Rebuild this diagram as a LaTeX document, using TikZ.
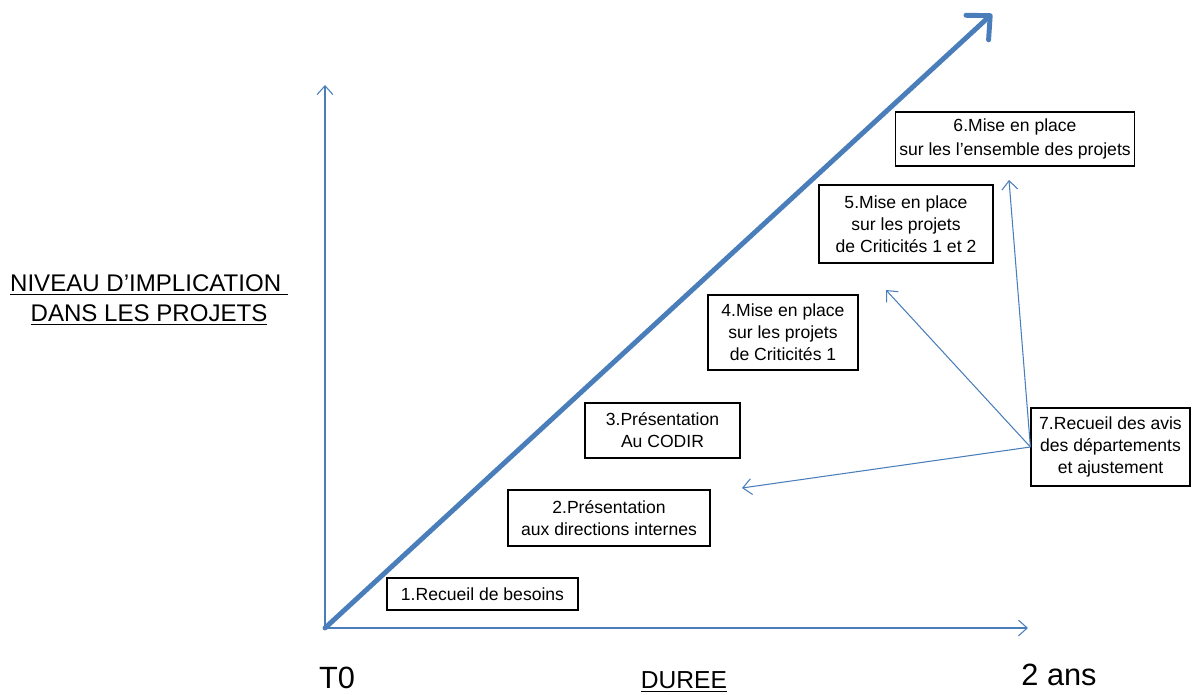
\documentclass[tikz,border=0pt]{standalone}
\usepackage{fontspec}
\setmainfont{Liberation Sans}
\usetikzlibrary{arrows.meta}
\usetikzlibrary{positioning}

\definecolor{axisblue}{HTML}{4A7EBB}

\tikzset{
    etape/.style={draw=black, line width=0.7pt, align=center, inner sep=2pt,
        font=\fontsize{10}{12.5}\selectfont},
    axe/.style={axisblue, line width=0.6pt, -{Straight Barb[length=5pt, width=9pt]}},
    avis/.style={axisblue, line width=0.6pt, -{Straight Barb[length=5pt, width=9pt]}},
    grand/.style={font=\fontsize{17.5}{20}\selectfont, inner sep=1pt},
    titre/.style={font=\fontsize{13.7}{17}\selectfont, align=center}
}

\begin{document}
\begin{tikzpicture}[x=0.02cm, y=-0.02cm]
            \useasboundingbox (0,0) rectangle (1200,695);

            \coordinate (O) at (325,628);
            \coordinate (Ytop) at (325,85);
            \coordinate (Xend) at (1028,628);
            \coordinate (Diag) at (992,14);

            % axes
            \draw[axe] (O) -- (Ytop);
            \draw[axe] (O) -- (Xend);
            \draw[axisblue, line width=2.8pt, line cap=round,
                -{Straight Barb[length=10pt, width=19pt, line cap=round, round]}] (O) -- (Diag);

            % etapes
            \node[etape, minimum width=3.82cm, minimum height=0.64cm] (e1) at (482.5,594) {1.Recueil de besoins};
            \node[etape, minimum width=4.04cm, minimum height=1.12cm] (e2) at (609,518) {2.Présentation\\aux directions internes};
            \node[etape, minimum width=3.1cm, minimum height=1.1cm] (e3) at (662.5,430.5) {3.Présentation\\Au CODIR};
            \node[etape, minimum width=3.0cm, minimum height=1.5cm] (e4) at (783,332.5) {4.Mise en place\\sur les projets\\de Criticités 1};
            \node[etape, minimum width=3.48cm, minimum height=1.56cm] (e5) at (906,224) {5.Mise en place\\sur les projets\\de Criticités 1 et 2};
            \node[etape, minimum width=4.72cm, minimum height=1.08cm] (e6) at (1015,139) {6.Mise en place\\[1pt]sur les l’ensemble des projets};
            \node[etape, minimum width=3.18cm, minimum height=1.56cm] (e7) at (1110.5,447) {7.Recueil des avis\\des départements\\et ajustement};

            % retours
            \coordinate (R1) at (742,488);
            \coordinate (R2) at (886,290);
            \coordinate (R3) at (1009,180);
            \foreach \r in {R1,R2,R3}{
                \draw[avis] (e7.west) -- (\r);
            }

            % libelles
            \node[titre] (niveau) at (149,300) {\underline{NIVEAU D’IMPLICATION\ }\\\underline{DANS LES PROJETS}};
            \node[grand] (t0) at (337,678) {T0};
            \node[grand] (fin) at (1059,675) {2 ans};
            \node[font=\fontsize{14}{17}\selectfont, inner sep=1pt] (duree) at (684,682) {\underline{DUREE}};
        \end{tikzpicture}
\end{document}
